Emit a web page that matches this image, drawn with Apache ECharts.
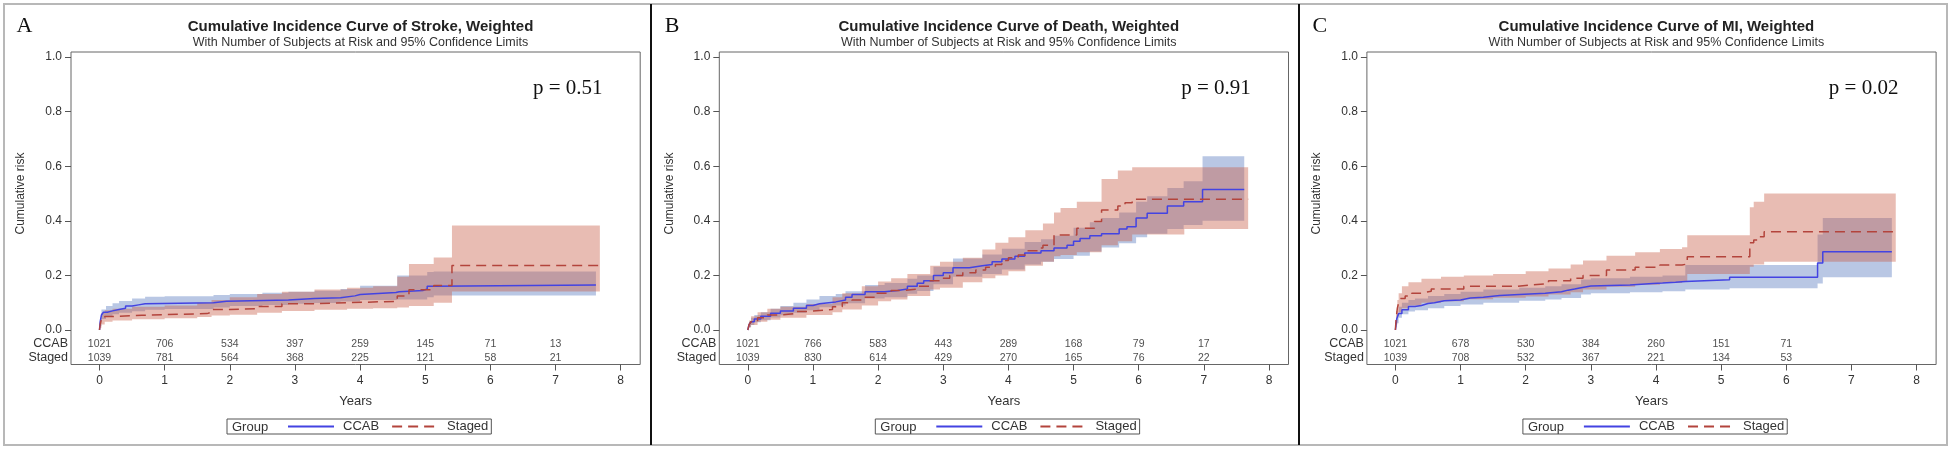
<!DOCTYPE html>
<html>
<head>
<meta charset="utf-8">
<script src="https://cdn.jsdelivr.net/npm/echarts@6/dist/echarts.min.js"></script>
<style>html,body{margin:0;padding:0;background:#fff}#c{width:1952px;height:450px}</style>
</head>
<body>
<div id="c"></div>
<script>
// ---------------- data ----------------
const groups = ['CCAB', 'Staged'];
const xTickYears = [0, 1, 2, 3, 4, 5, 6, 7, 8];
const yTickValues = [0, 0.2, 0.4, 0.6, 0.8, 1.0];
const riskYears = [0, 1, 2, 3, 4, 5, 6, 7];
const panelLetters = ['A', 'B', 'C'];
const panelTitles = [
  'Cumulative Incidence Curve of Stroke, Weighted',
  'Cumulative Incidence Curve of Death, Weighted',
  'Cumulative Incidence Curve of MI, Weighted'
];
const subtitleText = 'With Number of Subjects at Risk and 95% Confidence Limits';
const pValues = ['p = 0.51', 'p = 0.91', 'p = 0.02'];

// Stroke: [years, estimate] and [years, lower, upper]
const strokeCcab = [[0,0],[0.01,0.03],[0.03,0.055],[0.06,0.065],[0.12,0.07],[0.2,0.075],[0.3,0.08],[0.4,0.088],[0.5,0.092],[0.6,0.096],[0.7,0.1],[1.75,0.105],[1.95,0.11],[2.9,0.115],[3.3,0.118],[3.7,0.125],[3.92,0.13],[4.0,0.137],[4.55,0.14],[4.6,0.145],[4.97,0.15],[5.03,0.16],[5.13,0.165],[7.62,0.165]];
const strokeCcabCI = [[0,0,0],[0.01,0.015,0.045],[0.03,0.04,0.075],[0.1,0.05,0.088],[0.2,0.058,0.098],[0.3,0.063,0.106],[0.5,0.069,0.115],[0.7,0.074,0.122],[1.0,0.077,0.124],[1.75,0.082,0.128],[2.0,0.088,0.132],[2.5,0.092,0.136],[2.9,0.096,0.14],[3.3,0.099,0.144],[3.7,0.104,0.15],[4.0,0.11,0.162],[4.57,0.112,0.2],[5.03,0.12,0.212],[5.13,0.126,0.214],[7.62,0.126,0.214]];
const strokeStaged = [[0,0],[0.01,0.02],[0.03,0.04],[0.08,0.049],[0.2,0.054],[0.65,0.06],[1.65,0.065],[1.72,0.075],[2.0,0.078],[2.42,0.086],[2.8,0.096],[3.3,0.1],[3.8,0.105],[4.57,0.125],[4.75,0.147],[5.13,0.163],[5.41,0.236],[7.68,0.236]];
const strokeStagedCI = [[0,0,0],[0.01,0.008,0.04],[0.03,0.02,0.062],[0.08,0.03,0.072],[0.2,0.035,0.078],[0.5,0.039,0.085],[1.0,0.043,0.09],[1.5,0.048,0.1],[1.72,0.053,0.11],[2.0,0.056,0.12],[2.42,0.063,0.132],[2.8,0.07,0.14],[3.3,0.074,0.148],[3.8,0.078,0.155],[4.2,0.08,0.16],[4.57,0.082,0.195],[4.75,0.088,0.242],[5.13,0.1,0.266],[5.41,0.141,0.383],[7.68,0.141,0.383]];
const strokeRiskCcab = [1021, 706, 534, 397, 259, 145, 71, 13];
const strokeRiskStaged = [1039, 781, 564, 368, 225, 121, 58, 21];

// Death
const deathCcab = [[0,0],[0.02,0.02],[0.05,0.03],[0.1,0.04],[0.2,0.05],[0.35,0.061],[0.5,0.07],[0.7,0.08],[0.9,0.09],[1.0,0.096],[1.1,0.103],[1.35,0.11],[1.5,0.12],[1.6,0.13],[1.8,0.14],[2.1,0.145],[2.3,0.15],[2.45,0.16],[2.6,0.171],[2.7,0.18],[2.85,0.2],[3.0,0.21],[3.15,0.228],[3.4,0.235],[3.6,0.24],[3.75,0.25],[3.9,0.26],[4.1,0.27],[4.25,0.282],[4.5,0.29],[4.7,0.3],[4.9,0.31],[5.0,0.325],[5.1,0.335],[5.25,0.345],[5.43,0.353],[5.7,0.37],[5.82,0.378],[5.96,0.41],[6.13,0.428],[6.44,0.454],[6.69,0.47],[6.98,0.515],[7.62,0.515]];
const deathCcabCI = [[0,0,0],[0.02,0.01,0.03],[0.05,0.018,0.045],[0.1,0.028,0.055],[0.2,0.036,0.065],[0.35,0.046,0.078],[0.5,0.054,0.088],[0.7,0.063,0.1],[0.9,0.072,0.112],[1.1,0.083,0.125],[1.35,0.09,0.132],[1.5,0.098,0.142],[1.8,0.115,0.165],[2.1,0.12,0.172],[2.45,0.133,0.188],[2.6,0.143,0.2],[2.85,0.168,0.232],[3.15,0.195,0.262],[3.6,0.205,0.277],[3.9,0.222,0.298],[4.25,0.24,0.322],[4.5,0.25,0.332],[4.7,0.26,0.345],[5.0,0.272,0.375],[5.25,0.288,0.395],[5.43,0.302,0.41],[5.7,0.318,0.43],[5.96,0.34,0.47],[6.13,0.353,0.49],[6.44,0.37,0.52],[6.69,0.385,0.545],[6.98,0.4,0.636],[7.62,0.4,0.636]];
const deathStaged = [[0,0],[0.02,0.02],[0.05,0.03],[0.15,0.045],[0.3,0.055],[0.5,0.06],[0.7,0.068],[0.9,0.075],[1.3,0.085],[1.45,0.1],[1.6,0.11],[1.75,0.12],[1.95,0.135],[2.2,0.145],[2.4,0.15],[2.6,0.16],[2.8,0.18],[2.95,0.19],[3.1,0.2],[3.3,0.21],[3.5,0.22],[3.65,0.23],[3.8,0.24],[3.9,0.255],[4.0,0.265],[4.15,0.275],[4.26,0.29],[4.45,0.3],[4.53,0.31],[4.7,0.348],[5.05,0.373],[5.32,0.397],[5.43,0.44],[5.68,0.454],[5.79,0.466],[5.9,0.479],[7.68,0.479]];
const deathStagedCI = [[0,0,0],[0.02,0.01,0.035],[0.05,0.018,0.05],[0.15,0.03,0.065],[0.3,0.038,0.078],[0.5,0.045,0.085],[0.9,0.055,0.095],[1.3,0.065,0.12],[1.45,0.075,0.135],[1.75,0.09,0.16],[2.0,0.105,0.178],[2.2,0.112,0.19],[2.45,0.125,0.205],[2.8,0.148,0.235],[2.95,0.155,0.25],[3.3,0.175,0.265],[3.6,0.19,0.295],[3.8,0.2,0.32],[4.0,0.215,0.34],[4.26,0.235,0.365],[4.53,0.25,0.39],[4.7,0.27,0.43],[4.8,0.275,0.447],[5.05,0.285,0.47],[5.43,0.31,0.553],[5.68,0.325,0.584],[5.9,0.35,0.596],[6.7,0.37,0.596],[7.68,0.37,0.596]];
const deathRiskCcab = [1021, 766, 583, 443, 289, 168, 79, 17];
const deathRiskStaged = [1039, 830, 614, 429, 270, 165, 76, 22];

// MI
const miCcab = [[0,0],[0.01,0.02],[0.02,0.04],[0.05,0.06],[0.1,0.074],[0.2,0.086],[0.3,0.09],[0.4,0.097],[0.5,0.1],[0.6,0.107],[0.75,0.11],[1.0,0.117],[1.15,0.12],[1.35,0.126],[1.6,0.13],[1.9,0.135],[2.3,0.14],[2.55,0.146],[2.65,0.15],[2.75,0.155],[2.85,0.161],[3.0,0.165],[3.6,0.17],[3.95,0.172],[4.1,0.175],[4.3,0.178],[4.45,0.184],[5.13,0.193],[6.48,0.245],[6.56,0.287],[7.62,0.287]];
const miCcabCI = [[0,0,0],[0.01,0.01,0.035],[0.02,0.025,0.06],[0.05,0.045,0.085],[0.1,0.058,0.1],[0.2,0.068,0.11],[0.3,0.072,0.115],[0.5,0.08,0.125],[0.75,0.088,0.132],[1.0,0.093,0.14],[1.35,0.1,0.148],[1.9,0.107,0.155],[2.3,0.112,0.16],[2.55,0.117,0.168],[2.85,0.13,0.185],[3.0,0.135,0.19],[3.6,0.138,0.195],[4.1,0.142,0.2],[4.45,0.148,0.238],[5.13,0.153,0.238],[6.48,0.17,0.35],[6.56,0.193,0.41],[7.62,0.193,0.41]];
const miStaged = [[0,0],[0.01,0.04],[0.03,0.08],[0.05,0.1],[0.08,0.115],[0.15,0.125],[0.25,0.135],[0.4,0.142],[0.55,0.15],[1.05,0.16],[1.87,0.165],[2.06,0.17],[2.35,0.18],[2.69,0.19],[2.88,0.2],[3.24,0.22],[3.68,0.23],[4.06,0.238],[4.4,0.242],[4.48,0.268],[5.44,0.32],[5.5,0.33],[5.56,0.342],[5.66,0.36],[7.68,0.36]];
const miStagedCI = [[0,0,0],[0.01,0.02,0.07],[0.03,0.05,0.11],[0.05,0.065,0.135],[0.1,0.08,0.16],[0.2,0.09,0.175],[0.4,0.1,0.188],[0.7,0.105,0.195],[1.05,0.113,0.2],[1.5,0.118,0.205],[2.0,0.123,0.215],[2.35,0.13,0.225],[2.69,0.138,0.24],[2.88,0.148,0.255],[3.24,0.158,0.272],[3.68,0.166,0.285],[4.06,0.172,0.297],[4.4,0.176,0.303],[4.48,0.205,0.347],[5.44,0.232,0.45],[5.5,0.24,0.47],[5.66,0.25,0.5],[7.68,0.25,0.5]];
const miRiskCcab = [1021, 678, 530, 384, 260, 151, 71];
const miRiskStaged = [1039, 708, 532, 367, 221, 134, 53];

// ---------------- layout / style ----------------
const panels = [
  {ccab: strokeCcab, ccabCI: strokeCcabCI, staged: strokeStaged, stagedCI: strokeStagedCI, riskC: strokeRiskCcab, riskS: strokeRiskStaged},
  {ccab: deathCcab, ccabCI: deathCcabCI, staged: deathStaged, stagedCI: deathStagedCI, riskC: deathRiskCcab, riskS: deathRiskStaged},
  {ccab: miCcab, ccabCI: miCcabCI, staged: miStaged, stagedCI: miStagedCI, riskC: miRiskCcab, riskS: miRiskStaged}
];
const X0 = [99.5, 747.8, 1395.4];   // pixel of year 0 in each panel
const UNIT = 65.15;                 // px per year
const PAD_L = 28.5, PAD_R = 19.5;   // frame padding around 0..8 years
const FRAME_W = 8 * UNIT + PAD_L + PAD_R;
const FRAME_TOP = 52, FRAME_H = 312.5;
const Y_UNIT = 273;                 // px per 1.0 risk
const XMIN = -PAD_L / UNIT, XMAX = 8 + PAD_R / UNIT;
const YMAX = 1 + 5 / Y_UNIT, YMIN = YMAX - FRAME_H / Y_UNIT;

const SANS = 'Liberation Sans, Arial, sans-serif';
const SERIF = 'Liberation Serif, Times New Roman, serif';
const TXT = '#333';
const BLUE = '#4343e2';
const RED = '#b3443c';
const BLUE_BAND = 'rgba(100,130,195,0.45)';
const RED_BAND = 'rgba(200,95,75,0.42)';

function bandRenderer(ci, color) {
  return function (params, api) {
    if (params.dataIndex !== 0) return null;
    const upper = [], lower = [];
    for (let k = 0; k < ci.length; k++) {
      const t = ci[k][0];
      const tn = k + 1 < ci.length ? ci[k + 1][0] : t;
      upper.push(api.coord([t, ci[k][2]]), api.coord([tn, ci[k][2]]));
      lower.push(api.coord([t, ci[k][1]]), api.coord([tn, ci[k][1]]));
    }
    return {type: 'polygon', shape: {points: upper.concat(lower.reverse())}, style: {fill: color}, silent: true};
  };
}

const grid = [], xAxis = [], yAxis = [], series = [], title = [], legend = [], graphic = [];

graphic.push({type: 'rect', shape: {x: 4, y: 4, width: 1943, height: 441}, style: {fill: 'none', stroke: '#b8b8b8', lineWidth: 2}, silent: true});
graphic.push({type: 'line', shape: {x1: 651, y1: 4, x2: 651, y2: 445}, style: {stroke: '#111', lineWidth: 2}, silent: true});
graphic.push({type: 'line', shape: {x1: 1299, y1: 4, x2: 1299, y2: 445}, style: {stroke: '#111', lineWidth: 2}, silent: true});

panels.forEach((p, i) => {
  const x0 = X0[i];
  const g = i * 2;
  const left = x0 - PAD_L;
  grid.push({left: left, top: FRAME_TOP, width: FRAME_W, height: FRAME_H, show: true, borderColor: '#666', borderWidth: 1, backgroundColor: 'rgba(0,0,0,0)'});
  grid.push({left: left, top: 337, width: FRAME_W, height: 28, show: false});

  xAxis.push({
    gridIndex: g, type: 'value', min: XMIN, max: XMAX, position: 'bottom',
    axisLine: {show: false, onZero: false},
    axisTick: {show: true, length: 6, customValues: xTickYears, lineStyle: {color: '#555', width: 1}},
    axisLabel: {customValues: xTickYears, margin: 10, fontSize: 12, color: TXT, fontFamily: SANS},
    splitLine: {show: false},
    name: 'Years', nameLocation: 'middle', nameGap: 30,
    nameTextStyle: {fontSize: 13, color: TXT, fontFamily: SANS}
  });
  xAxis.push({gridIndex: g + 1, type: 'value', min: XMIN, max: XMAX, show: false, axisLine: {onZero: false}});

  yAxis.push({
    gridIndex: g, type: 'value', min: YMIN, max: YMAX, position: 'left',
    axisLine: {show: false, onZero: false},
    axisTick: {show: true, length: 6, customValues: yTickValues, lineStyle: {color: '#555', width: 1}},
    axisLabel: {customValues: yTickValues, margin: 9, fontSize: 12, color: TXT, fontFamily: SANS, formatter: v => v.toFixed(1)},
    splitLine: {show: false},
    name: 'Cumulative risk', nameLocation: 'middle', nameGap: 44,
    nameTextStyle: {fontSize: 12, color: TXT, fontFamily: SANS, padding: [0, 0, 0, 29.5]}
  });
  yAxis.push({
    gridIndex: g + 1, type: 'category', data: ['Staged', 'CCAB'], position: 'left',
    axisLine: {show: false, onZero: false}, axisTick: {show: false},
    axisLabel: {interval: 0, margin: 3, fontSize: 12.5, color: TXT, fontFamily: SANS}
  });

  series.push({
    name: 'CCAB 95% CL ' + i, type: 'custom', xAxisIndex: g, yAxisIndex: g, z: 1, silent: true,
    renderItem: bandRenderer(p.ccabCI, BLUE_BAND), data: p.ccabCI, encode: {x: 0, y: [1, 2]}
  });
  series.push({
    name: 'Staged 95% CL ' + i, type: 'custom', xAxisIndex: g, yAxisIndex: g, z: 1, silent: true,
    renderItem: bandRenderer(p.stagedCI, RED_BAND), data: p.stagedCI, encode: {x: 0, y: [1, 2]}
  });

  series.push({
    name: 'CCAB', type: 'line', xAxisIndex: g, yAxisIndex: g, step: 'end', symbol: 'none', z: 3,
    lineStyle: {color: BLUE, width: 1.5}, itemStyle: {color: BLUE}, data: p.ccab
  });
  series.push({
    name: 'Staged', type: 'line', xAxisIndex: g, yAxisIndex: g, step: 'end', symbol: 'none', z: 3,
    lineStyle: {color: RED, width: 1.5, type: [10, 6]}, itemStyle: {color: RED}, data: p.staged
  });

  const riskData = [];
  p.riskC.forEach((n, k) => riskData.push([riskYears[k], 'CCAB', n]));
  p.riskS.forEach((n, k) => riskData.push([riskYears[k], 'Staged', n]));
  series.push({
    name: 'at risk ' + i, type: 'scatter', xAxisIndex: g + 1, yAxisIndex: g + 1,
    symbolSize: 1, itemStyle: {color: 'rgba(0,0,0,0)'}, silent: true,
    label: {show: true, position: 'inside', formatter: q => q.value[2], fontSize: 10.5, color: '#222', fontFamily: SANS},
    data: riskData
  });

  title.push({
    text: panelTitles[i], subtext: subtitleText, left: x0 + 256, top: 14, textAlign: 'center', itemGap: 2,
    textStyle: {fontSize: 15, fontWeight: 'bold', color: '#222', fontFamily: SANS},
    subtextStyle: {fontSize: 12.5, color: TXT, fontFamily: SANS}
  });

  legend.push({
    left: x0 + 127.5, top: 419, orient: 'horizontal', data: groups, selectedMode: false,
    itemWidth: 46, itemHeight: 14, itemGap: 12, padding: [1, 3, 1, 60],
    borderColor: '#555', borderWidth: 1,
    itemStyle: {opacity: 0},
    textStyle: {fontSize: 13, color: TXT, fontFamily: SANS, padding: [0, 0, 0, 4]}
  });

  graphic.push({type: 'text', x: x0 - 83, y: 26, style: {text: panelLetters[i], font: '22px ' + SERIF, fill: '#111', textVerticalAlign: 'middle'}, silent: true});
  graphic.push({type: 'text', x: x0 + 503, y: 88, style: {text: pValues[i], font: '21px ' + SERIF, fill: '#111', textAlign: 'right', textVerticalAlign: 'middle'}, silent: true});
  graphic.push({type: 'text', x: x0 + 132.5, y: 427, style: {text: 'Group', font: '13px ' + SANS, fill: TXT, textVerticalAlign: 'middle'}, silent: true});
});

const chart = echarts.init(document.getElementById('c'));
chart.setOption({
  animation: false,
  backgroundColor: '#fff',
  title, legend, grid, xAxis, yAxis, series, graphic
});
</script>
</body>
</html>
